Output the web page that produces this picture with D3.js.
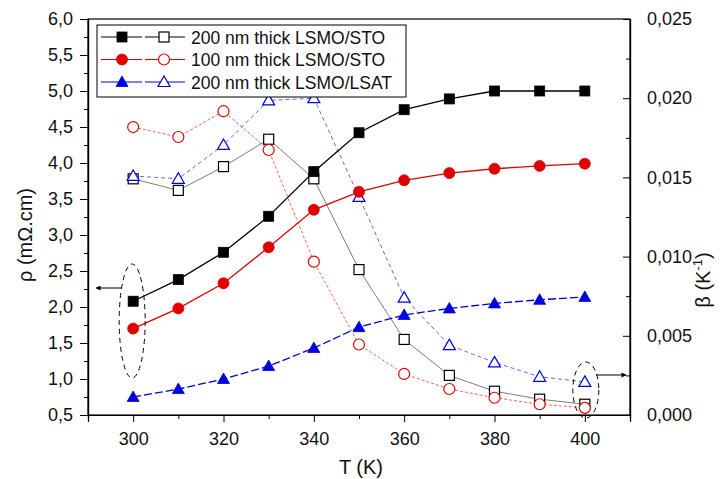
<!DOCTYPE html>
<html><head><meta charset="utf-8">
<script src="https://cdn.jsdelivr.net/npm/d3@7"></script>
<style>body{margin:0;background:#fff;} svg{display:block;font-family:"Liberation Sans",Arial,sans-serif;}</style>
</head><body>
<svg id="c" width="721" height="479"></svg>
<script>
const temps = [300,310,320,330,340,350,360,370,380,390,400];
// resistivity (left axis, mΩ.cm) - filled markers
const rhoSTO200 = [2.08,2.38,2.76,3.26,3.88,4.42,4.74,4.89,5.0,5.0,5.0];
const rhoSTO100 = [1.70,1.98,2.33,2.83,3.35,3.60,3.76,3.86,3.92,3.96,3.99];
const rhoLSAT200 = [0.75,0.86,1.00,1.18,1.43,1.72,1.89,1.98,2.05,2.10,2.14];
// beta (right axis, K^-1) - open markers
const betaSTO200 = [0.01491,0.01418,0.01568,0.01741,0.01491,0.00918,0.00477,0.00250,0.00150,0.00100,0.00068];
const betaSTO100 = [0.01818,0.01755,0.01918,0.01673,0.00968,0.00445,0.00259,0.00164,0.00109,0.00068,0.00045];
const betaLSAT200 = [0.01509,0.01491,0.01705,0.01986,0.02000,0.01377,0.00741,0.00441,0.00332,0.00241,0.00209];
const legendLabels = ["200 nm thick LSMO/STO","100 nm thick LSMO/STO","200 nm thick LSMO/LSAT"];
const xTicks = [300,320,340,360,380,400];
const yLeftTicks = [0.5,1.0,1.5,2.0,2.5,3.0,3.5,4.0,4.5,5.0,5.5,6.0];
const yRightTicks = [0,0.005,0.01,0.015,0.02,0.025];

const svg = d3.select("#c");
const L=88, R=630, T=19, B=415;
const x = d3.scaleLinear().domain([290,410]).range([L,R]);
const yL = d3.scaleLinear().domain([0.5,6.0]).range([B,T]);
const yR = d3.scaleLinear().domain([0,0.025]).range([B,T]);

// frame
svg.append("rect").attr("x",L).attr("y",T).attr("width",R-L).attr("height",B-T)
  .attr("fill","none").attr("stroke","#000").attr("stroke-width",1.2);

// bottom axis
svg.append("g").attr("transform",`translate(0,${B})`)
  .call(d3.axisBottom(x).tickValues(xTicks).tickSize(7).tickPadding(10).tickFormat(d3.format("d")));
svg.append("g").attr("transform",`translate(0,${B})`)
  .call(d3.axisBottom(x).tickValues(d3.range(290,411,10).filter(v=>!xTicks.includes(v))).tickSize(4).tickFormat(""));
// left axis
const fmt1 = d => d3.format(".1f")(d).replace(".",",");
svg.append("g").attr("transform",`translate(${L},0)`)
  .call(d3.axisLeft(yL).tickValues(yLeftTicks).tickSize(8).tickPadding(7).tickFormat(fmt1));
svg.append("g").attr("transform",`translate(${L},0)`)
  .call(d3.axisLeft(yL).tickValues(d3.range(0.75,6,0.5)).tickSize(4).tickFormat(""));
// right axis (ticks inward)
const fmt3 = d => d3.format(".3f")(d).replace(".",",");
svg.append("g").attr("transform",`translate(${R},0)`)
  .call(d3.axisRight(yR).tickValues(yRightTicks).tickSize(-7).tickPadding(17).tickFormat(fmt3));
svg.append("g").attr("transform",`translate(${R},0)`)
  .call(d3.axisRight(yR).tickValues(d3.range(0.0025,0.025,0.005)).tickSize(-4).tickFormat(""));
svg.selectAll(".domain").attr("stroke","#000").attr("stroke-width",1.2);
svg.selectAll(".tick line").attr("stroke","#000");
svg.selectAll(".tick text").attr("font-size",18).attr("fill","#111").attr("font-family","Liberation Sans, Arial, sans-serif");

// axis titles
svg.append("text").attr("transform",`translate(32,235) rotate(-90)`).attr("text-anchor","middle")
  .attr("font-size",20).attr("fill","#111").text("ρ (mΩ.cm)");
const rt = svg.append("text").attr("transform",`translate(710,280) rotate(-90)`).attr("text-anchor","middle")
  .attr("font-size",20).attr("fill","#111");
rt.append("tspan").text("β (K");
rt.append("tspan").attr("font-size",13).attr("dy",-8).text("-1");
rt.append("tspan").attr("dy",8).text(")");
svg.append("text").attr("x",x(350)+2).attr("y",474).attr("text-anchor","middle")
  .attr("font-size",20).attr("fill","#111").text("T (K)");

// series definitions
const series = [
  {vals:rhoSTO200, y:yL, color:"#000", dash:null, w:1.3, shape:"square", filled:true},
  {vals:rhoSTO100, y:yL, color:"#e00000", dash:null, w:1.3, shape:"circle", filled:true},
  {vals:rhoLSAT200, y:yL, color:"#0000dd", dash:"8,3", w:1.3, shape:"triangle", filled:true},
  {vals:betaSTO200, y:yR, color:"#444", dash:null, w:0.7, shape:"square", filled:false},
  {vals:betaSTO100, y:yR, color:"#e00000", dash:"3,2", w:0.6, shape:"circle", filled:false},
  {vals:betaLSAT200, y:yR, color:"#0000dd", dash:"4,3", w:0.6, shape:"triangle", filled:false}
];
function marker(g, shape, filled, color, cx, cy){
  const sz = 10;
  let m;
  if(shape==="square"){
    m = g.append("rect").attr("x",cx-sz/2).attr("y",cy-sz/2).attr("width",sz).attr("height",sz);
  } else if(shape==="circle"){
    m = g.append("circle").attr("cx",cx).attr("cy",cy).attr("r",sz/2+0.5);
  } else {
    const h = sz*1.0, w = sz*1.2;
    m = g.append("path").attr("d",`M${cx},${cy-h*0.6}L${cx+w/2},${cy+h*0.45}L${cx-w/2},${cy+h*0.45}Z`);
  }
  const mc = (color==="#444") ? "#000" : color;
  m.attr("fill", filled? mc : "#fff").attr("stroke", mc).attr("stroke-width", filled?0.8:1.2);
}
const order = [3,4,5,0,1,2];
order.forEach(i=>{
  const s = series[i];
  const line = d3.line().x((d,j)=>x(temps[j])).y(d=>s.y(d));
  svg.append("path").datum(s.vals).attr("d",line).attr("fill","none")
    .attr("stroke",s.color).attr("stroke-width",s.w).attr("stroke-dasharray",s.dash);
});
order.forEach(i=>{
  const s = series[i];
  const g = svg.append("g");
  s.vals.forEach((v,j)=>marker(g,s.shape,s.filled,s.color,x(temps[j]),s.y(v)));
});

// legend
const lg = svg.append("g");
lg.append("rect").attr("x",97).attr("y",25).attr("width",309).attr("height",72)
  .attr("fill","#fff").attr("stroke","#000").attr("stroke-width",1);
legendLabels.forEach((lab,i)=>{
  const yy = 37 + i*22.5;
  const sf = series[i], so = series[i+3];
  lg.append("line").attr("x1",101).attr("x2",142).attr("y1",yy).attr("y2",yy)
    .attr("stroke",sf.color).attr("stroke-width",1);
  lg.append("line").attr("x1",145).attr("x2",185).attr("y1",yy).attr("y2",yy)
    .attr("stroke",so.color==="#444"?"#000":so.color).attr("stroke-width",1);
  marker(lg,sf.shape,true,sf.color,122,yy);
  marker(lg,so.shape,false,so.color,164,yy);
  lg.append("text").attr("x",191).attr("y",yy+6.5).attr("font-size",17.5).attr("fill","#111").text(lab);
});

// annotations: ellipses and arrows
svg.append("defs").append("marker").attr("id","ah").attr("viewBox","0 0 10 10").attr("refX",9).attr("refY",5)
  .attr("markerWidth",7).attr("markerHeight",5).attr("orient","auto")
  .append("path").attr("d","M0,0L10,5L0,10Z").attr("fill","#000");
svg.append("ellipse").attr("cx",x(300)-1).attr("cy",321).attr("rx",13).attr("ry",57)
  .attr("fill","none").attr("stroke","#000").attr("stroke-width",1).attr("stroke-dasharray","5,4");
svg.append("line").attr("x1",122).attr("y1",288).attr("x2",96).attr("y2",288)
  .attr("stroke","#000").attr("stroke-width",1).attr("marker-end","url(#ah)");
svg.append("ellipse").attr("cx",x(400)+1).attr("cy",390).attr("rx",13).attr("ry",28)
  .attr("fill","none").attr("stroke","#000").attr("stroke-width",1).attr("stroke-dasharray","5,4");
svg.append("line").attr("x1",596).attr("y1",375).attr("x2",626).attr("y2",375)
  .attr("stroke","#000").attr("stroke-width",1).attr("marker-end","url(#ah)");
</script>
</body></html>
